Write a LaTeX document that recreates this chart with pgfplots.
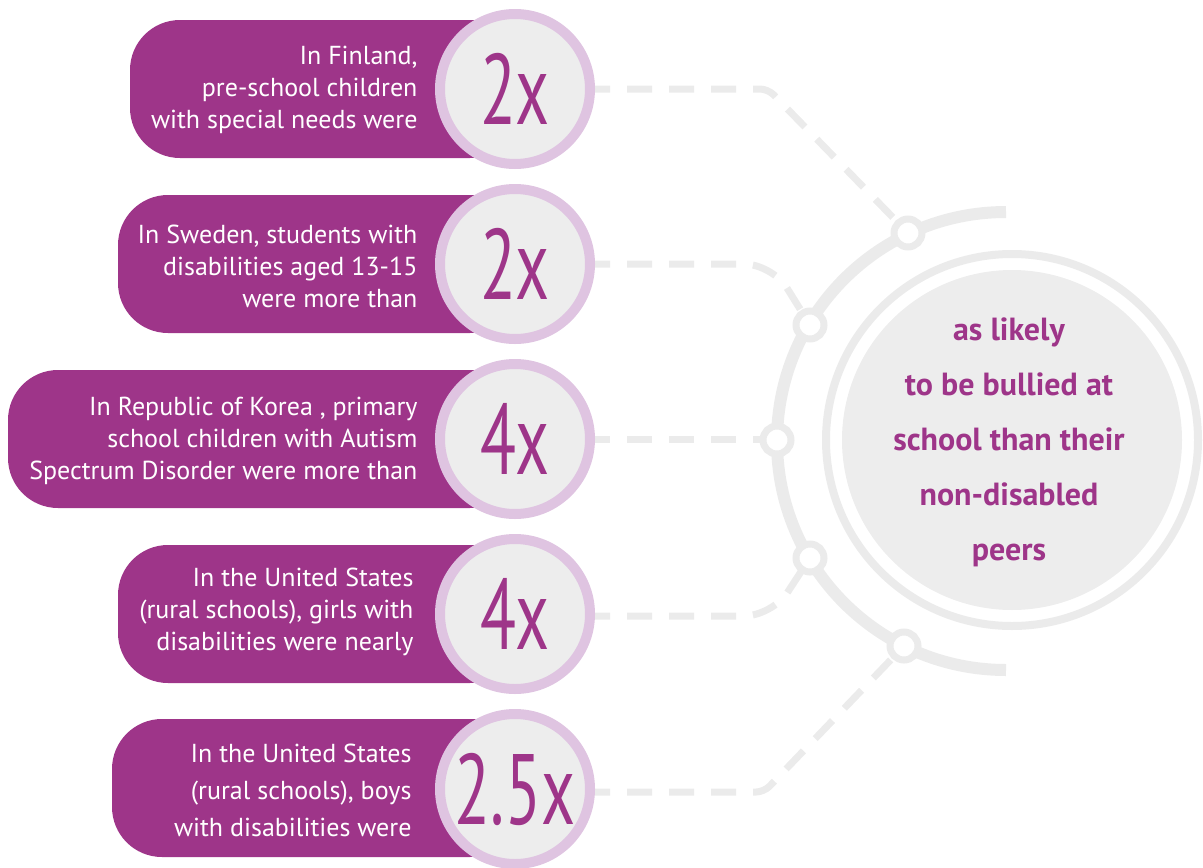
\documentclass[border=0pt]{standalone}
\usepackage{pgfplots}
\pgfplotsset{compat=1.18}
\usepackage{fontspec}
\setmainfont{PT Sans}
\newfontfamily\bigfont[FakeStretch=0.66]{PT Sans}
\definecolor{purp}{RGB}{158,53,137}
\definecolor{lav}{RGB}{223,196,225}
\definecolor{lgrey}{RGB}{235,235,235}
\definecolor{cfill}{RGB}{237,237,237}
\begin{document}
\begin{tikzpicture}
\begin{axis}[x=1pt, y=1pt, y dir=reverse,
  xmin=0, xmax=1203, ymin=0, ymax=868,
  hide axis, clip=false, scale only axis,
  /pgf/number format/assume math mode=true]
% bounding box
\path (axis cs:0,0) rectangle (axis cs:1203,868);
% pills
\fill[purp, rounded corners=50pt] (axis cs:130,20) rectangle (axis cs:520,158);
\fill[purp, rounded corners=50pt] (axis cs:118,195) rectangle (axis cs:520,333);
\fill[purp, rounded corners=50pt] (axis cs:8,370) rectangle (axis cs:520,508);
\fill[purp, rounded corners=50pt] (axis cs:118,545) rectangle (axis cs:520,683);
\fill[purp, rounded corners=50pt] (axis cs:112,719) rectangle (axis cs:520,857);
% pill texts
\node[anchor=east, align=right, text=white, font=\fontsize{26}{32}\selectfont] at (axis cs:421,90)
  {In Finland,\\pre-school children\\with special needs were};
\node[anchor=east, align=right, text=white, font=\fontsize{26}{32}\selectfont] at (axis cs:421,266)
  {In Sweden, students with\\disabilities aged 13-15\\were more than};
\node[anchor=east, align=right, text=white, font=\fontsize{26}{32}\selectfont] at (axis cs:421,441)
  {In Republic of Korea , primary\\school children with Autism\\Spectrum Disorder were more than};
\node[anchor=east, align=right, text=white, font=\fontsize{26}{32}\selectfont] at (axis cs:417,612)
  {In the United States\\(rural schools), girls with\\disabilities were nearly};
\node[anchor=east, align=right, text=white, font=\fontsize{26}{37}\selectfont] at (axis cs:415,790)
  {In the United States\\(rural schools), boys\\with disabilities were};
% dashed connectors
\draw[lgrey, line width=7pt, dash pattern=on 25pt off 17pt, rounded corners=8pt] (axis cs:585,89) -- (axis cs:768,89) -- (axis cs:908,233);
\draw[lgrey, line width=7pt, dash pattern=on 25pt off 17pt, rounded corners=28pt] (axis cs:585,264) -- (axis cs:772,264) -- (axis cs:810,325);
\draw[lgrey, line width=7pt, dash pattern=on 25pt off 17pt] (axis cs:585,439) -- (axis cs:777,439);
\draw[lgrey, line width=7pt, dash pattern=on 25pt off 17pt, rounded corners=28pt] (axis cs:585,616) -- (axis cs:772,616) -- (axis cs:810,558);
\draw[lgrey, line width=7pt, dash pattern=on 25pt off 17pt, rounded corners=8pt] (axis cs:585,792) -- (axis cs:764,792) -- (axis cs:904,646);
% big arc
\draw[lgrey, line width=12pt] (axis cs:1006,212) arc[start angle=90, end angle=270, radius=229pt];
% node circles on arc
\draw[lgrey, fill=white, line width=7pt] (axis cs:908,233) circle[radius=14pt];
\draw[lgrey, fill=white, line width=7pt] (axis cs:810,325) circle[radius=14pt];
\draw[lgrey, fill=white, line width=7pt] (axis cs:777,440) circle[radius=14pt];
\draw[lgrey, fill=white, line width=7pt] (axis cs:810,558) circle[radius=14pt];
\draw[lgrey, fill=white, line width=7pt] (axis cs:904,646) circle[radius=14pt];
% central circle
\draw[lgrey, line width=8pt] (axis cs:1012,440) circle[radius=186pt];
\fill[cfill] (axis cs:1012,440) circle[radius=170pt];
\node[align=center, text=purp, font=\fontsize{32}{55}\selectfont\bfseries] at (axis cs:1009,442)
  {as likely\\to be bullied at\\school than their\\non-disabled\\peers};
% data circles with values
\addplot[only marks, mark=*, mark size=75pt,
  mark options={fill=cfill, draw=lav, line width=10pt},
  point meta=explicit,
  nodes near coords={\pgfmathprintnumber{\pgfplotspointmeta}x},
  every node near coord/.append style={anchor=center, text=purp,
    font=\bigfont\fontsize{100}{100}\selectfont}]
  table[x=x, y=y, meta=v] {
x y v
515 89 2
515 264 2
515 439 4
515 614 4
515 789 2.5
};
\end{axis}
\end{tikzpicture}
\end{document}
